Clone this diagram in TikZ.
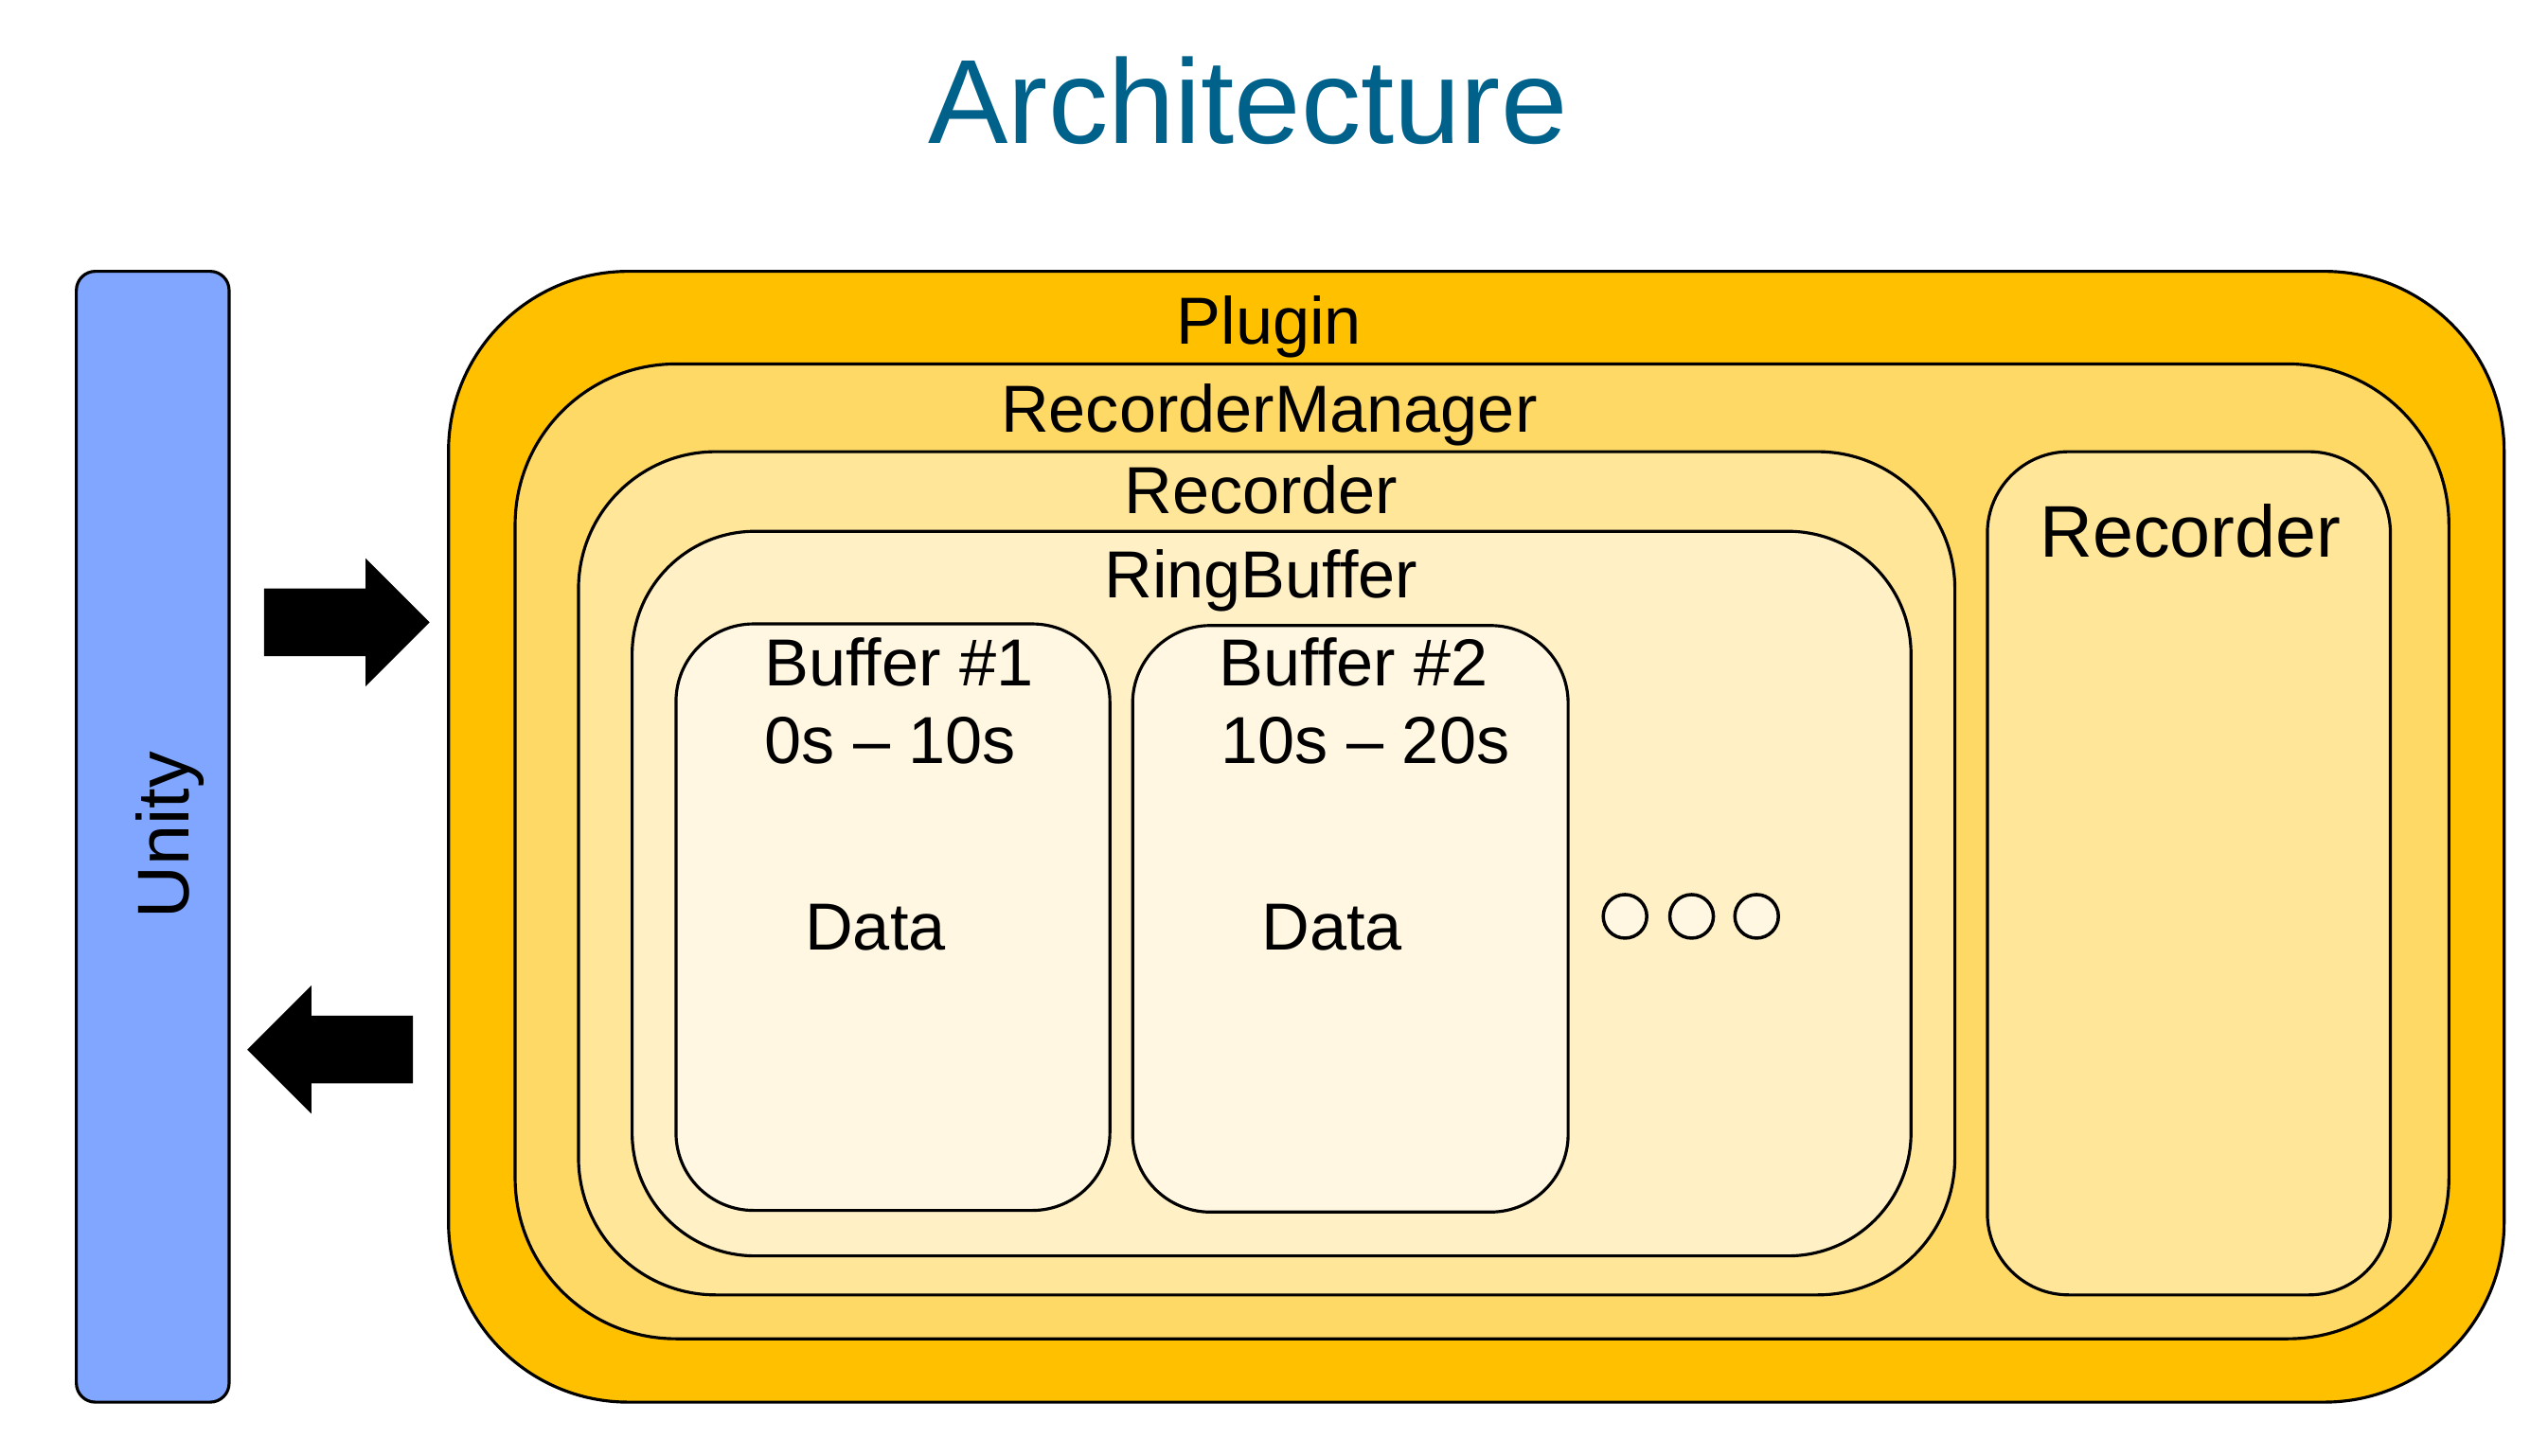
\documentclass[tikz,border=0pt]{standalone}
\usepackage{fontspec}
\setmainfont{Liberation Sans}
\usetikzlibrary{fit,shapes.arrows}

\definecolor{titleblue}{RGB}{0,98,139}
\definecolor{unityblue}{RGB}{128,166,255}
\definecolor{plugincol}{RGB}{255,192,0}
\definecolor{managercol}{RGB}{255,217,102}
\definecolor{recordercol}{RGB}{255,230,153}
\definecolor{ringcol}{RGB}{255,240,198}
\definecolor{buffercol}{RGB}{255,247,225}

\tikzset{
    layer/.style={draw, line width=0.9pt, inner sep=0pt},
    lbl/.style={anchor=base, inner sep=0pt, font=\fontsize{20}{24}\selectfont},
    bigarrow/.style={single arrow, fill=black, inner xsep=0pt,
        inner ysep=0.35cm, single arrow head extend=0.32cm,
        minimum height=1.75cm, minimum width=0pt},
    dot/.style={circle, draw, line width=1pt, fill=buffercol,
        minimum size=0.46cm, inner sep=0pt}
}

\begin{document}
\begin{tikzpicture}[x=0.017162cm, y=-0.017162cm]
    \useasboundingbox (0,0) rectangle (1568,896);

    \node[anchor=base, text=titleblue, font=\fontsize{36}{40}\selectfont]
        (title) at (768,88) {Architecture};

    % Unity side
    \node[layer, fill=unityblue, rounded corners=0.2cm,
        fit={(47,167) (141,863)}] (unity) {};
    \node[lbl, rotate=90, font=\fontsize{22}{26}\selectfont]
        (unitylbl) at (116,514) {Unity};

    \node[bigarrow] (arrin) at (203,383) {};
    \node[bigarrow, shape border rotate=180] (arrout) at (213.5,646) {};

    % nested layers
    \node[layer, fill=plugincol, rounded corners=1.9cm,
        fit={(276,167) (1541,863)}] (plugin) {};
    \node[lbl] (pluginlbl) at (781,212) {Plugin};

    \node[layer, fill=managercol, rounded corners=1.7cm,
        fit={(317,224) (1507,824)}] (manager) {};
    \node[lbl] (managerlbl) at (781,266) {RecorderManager};

    \node[layer, fill=recordercol, rounded corners=1.45cm,
        fit={(356,278) (1203,797)}] (recorder) {};
    \node[lbl] (recorderlbl) at (776,316) {Recorder};

    \node[layer, fill=ringcol, rounded corners=1.3cm,
        fit={(389,327) (1176,773)}] (ring) {};
    \node[lbl] (ringlbl) at (776,368) {RingBuffer};

    \node[layer, fill=buffercol, rounded corners=0.82cm,
        fit={(416,384) (683,745)}] (bufA) {};
    \node[lbl, anchor=base west] (bufAname) at (470,422) {Buffer \#1};
    \node[lbl, anchor=base west] (bufAtime) at (470,470) {0s – 10s};
    \node[lbl, anchor=base west] (bufAdata) at (495,585) {Data};

    \node[layer, fill=buffercol, rounded corners=0.82cm,
        fit={(697,385) (965,746)}] (bufB) {};
    \node[lbl, anchor=base west] (bufBname) at (750,422) {Buffer \#2};
    \node[lbl, anchor=base west] (bufBtime) at (751,470) {10s – 20s};
    \node[lbl, anchor=base west] (bufBdata) at (776,585) {Data};

    \foreach \x/\n in {1000/a, 1041/b, 1081/c}
        \node[dot] (dot\n) at (\x,564) {};

    % second recorder
    \node[layer, fill=recordercol, rounded corners=0.86cm,
        fit={(1223,278) (1471,797)}] (recorder2) {};
    \node[lbl, font=\fontsize{22}{26}\selectfont]
        (recorder2lbl) at (1348,343) {Recorder};
\end{tikzpicture}
\end{document}
